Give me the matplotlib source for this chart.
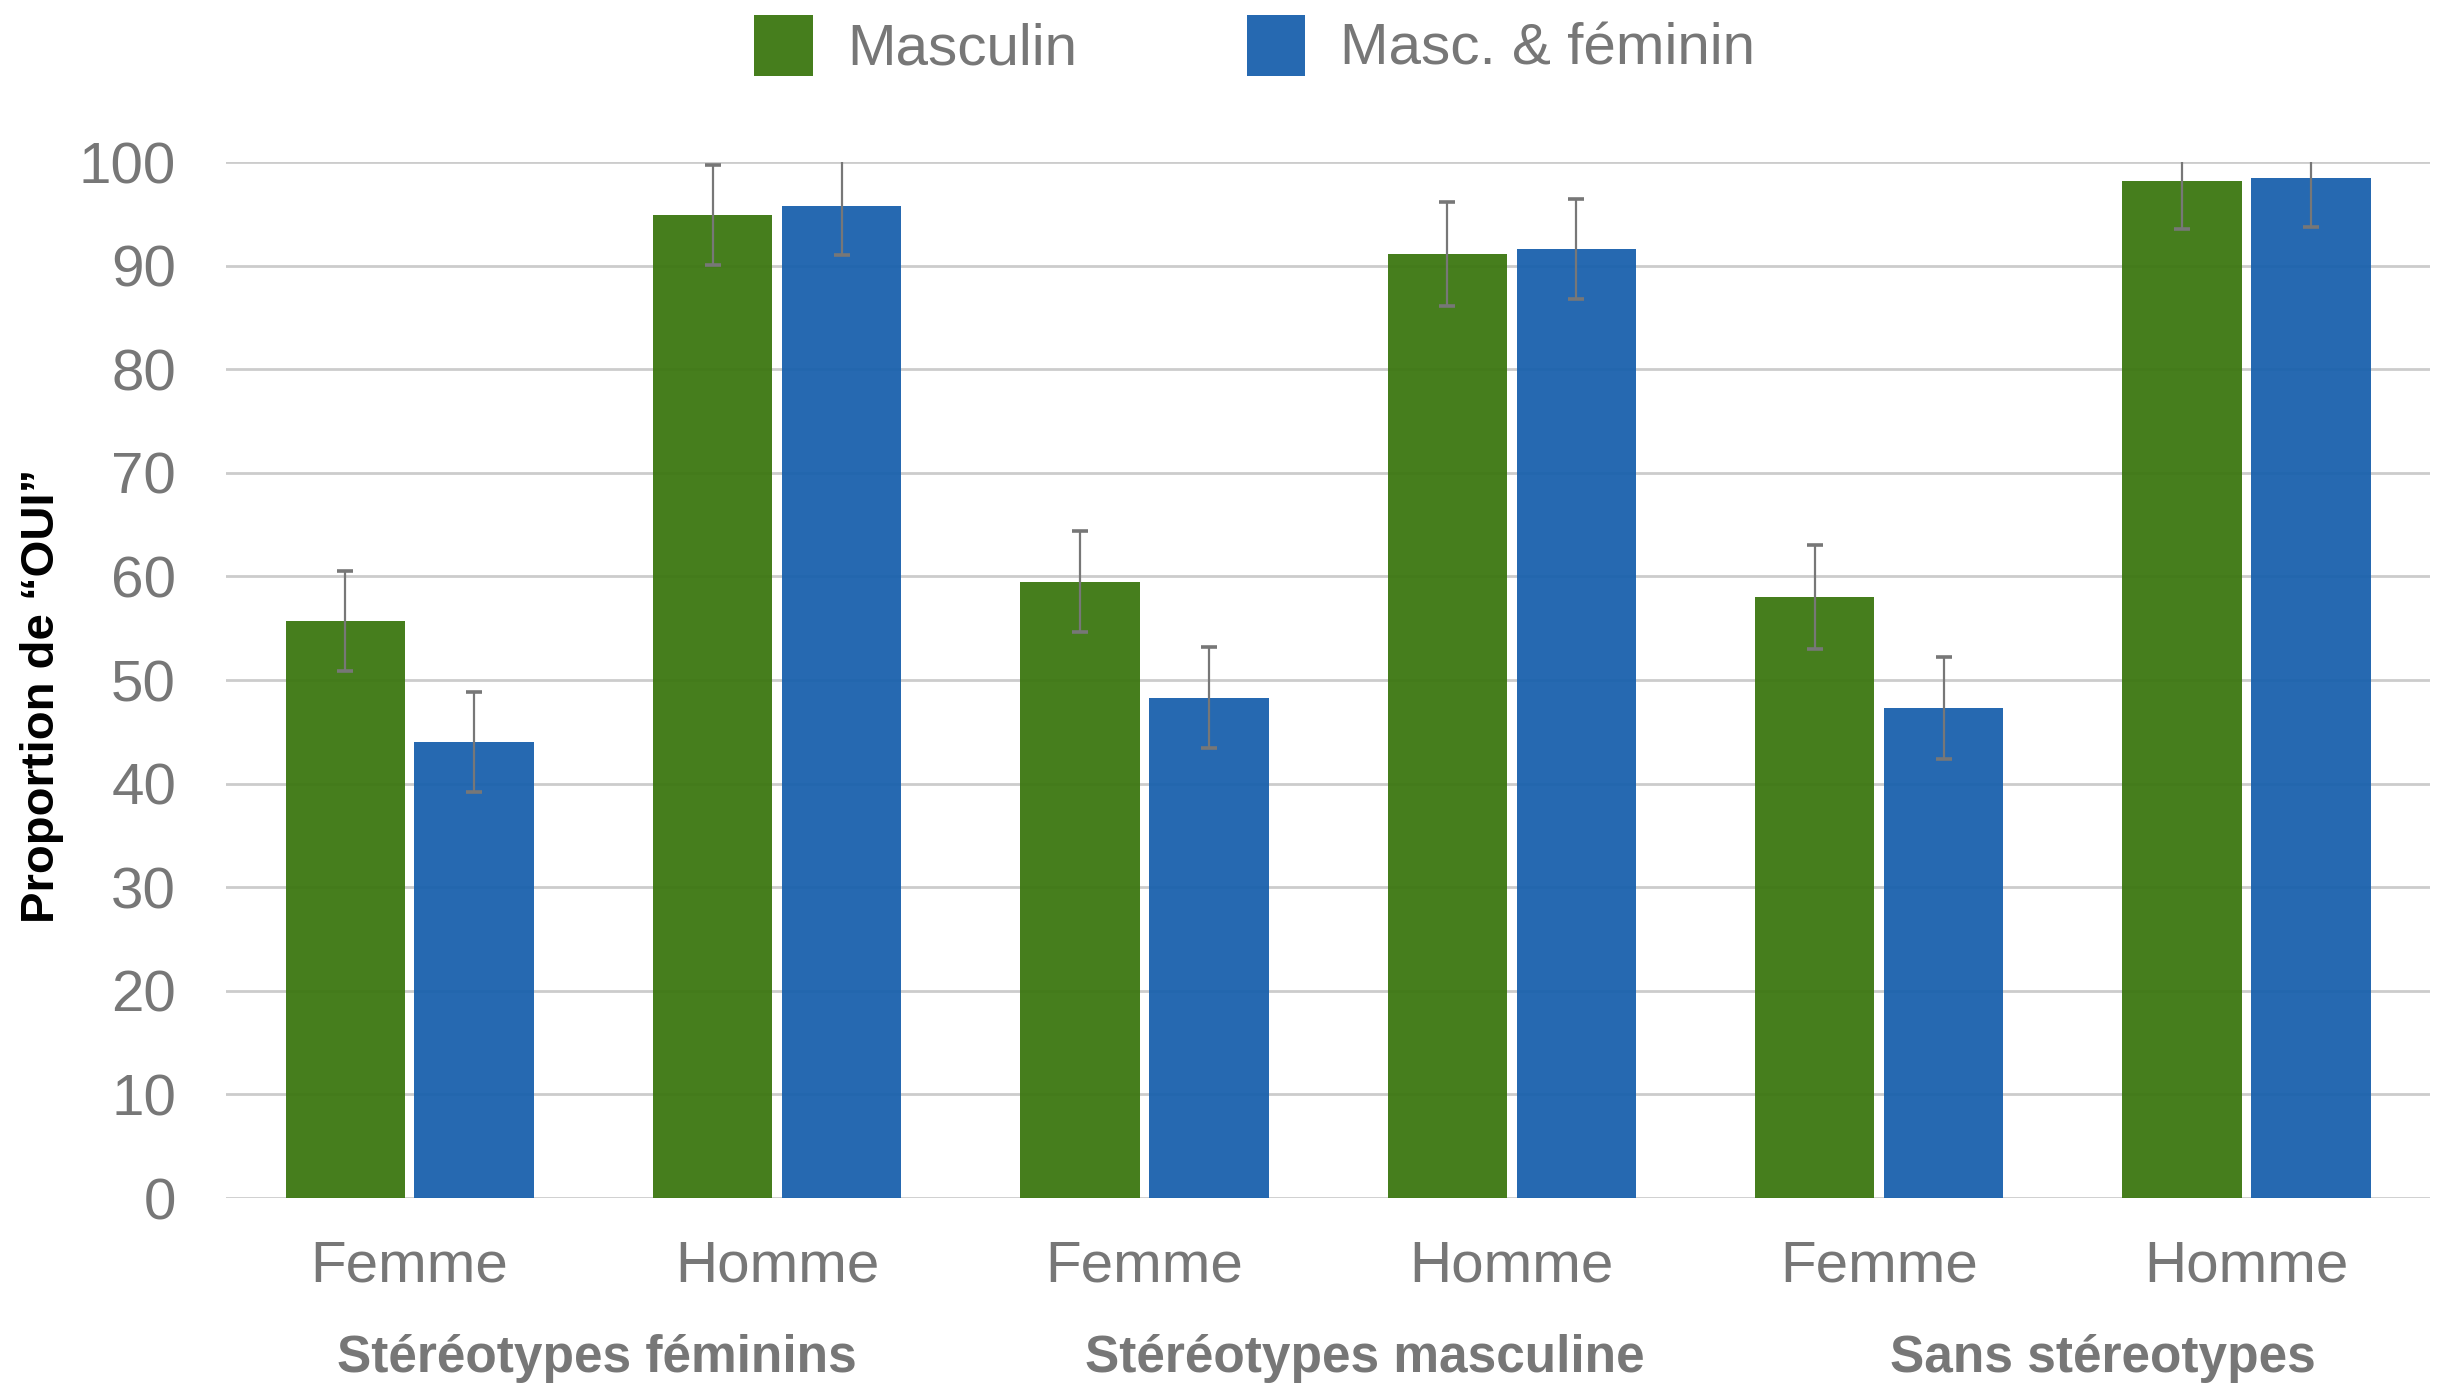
import matplotlib.pyplot as plt
import numpy as np

plt.rcParams['font.family'] = ['Liberation Sans', 'DejaVu Sans']

# data
categories = ['Femme', 'Homme', 'Femme', 'Homme', 'Femme', 'Homme']
groups = ['Stéréotypes féminins', 'Stéréotypes masculine', 'Sans stéreotypes']
series_names = ['Masculin', 'Masc. & féminin']
masculin = [55.7, 94.9, 59.5, 91.1, 58.0, 98.2]
masc_fem = [44.0, 95.8, 48.3, 91.6, 47.3, 98.5]
err_masculin = [4.85, 4.8, 4.9, 5.0, 5.0, 4.7]
err_masc_fem = [4.8, 4.8, 4.85, 4.85, 4.95, 4.8]

green = '#3c7711'
blue = '#1a61ad'
gray = '#777777'

fig = plt.figure(figsize=(12.23, 6.93), dpi=200)
ax = fig.add_axes([0.0924, 0.1356, 0.9011, 0.7475])

x = np.arange(len(categories))
w = 0.325
off = 0.013

ax.bar(x - off - w / 2, masculin, w, color=green, alpha=0.95, zorder=2, label=series_names[0])
ax.bar(x + off + w / 2, masc_fem, w, color=blue, alpha=0.95, zorder=2, label=series_names[1])
ax.errorbar(x - off - w / 2, masculin, yerr=err_masculin, fmt='none', ecolor=gray,
            elinewidth=0.8, capsize=3, capthick=1.3, zorder=3)
ax.errorbar(x + off + w / 2, masc_fem, yerr=err_masc_fem, fmt='none', ecolor=gray,
            elinewidth=0.8, capsize=3, capthick=1.3, zorder=3)

ax.set_xlim(-0.5, 5.5)
ax.set_ylim(0, 100)
ax.set_yticks(np.arange(0, 101, 10))
ax.set_xticks(x)
ax.set_xticklabels(categories)
ax.grid(True, axis='y', color='#cccccc', linewidth=1.0, zorder=0)
ax.set_axisbelow(True)
for s in ax.spines.values():
    s.set_visible(False)
ax.tick_params(axis='both', length=0, labelsize=21, labelcolor=gray)
ax.tick_params(axis='y', pad=18)
ax.tick_params(axis='x', pad=15)

# group labels under the categories
group_pos = [0.51, 2.6, 4.61]
for gx, g in zip(group_pos, groups):
    ax.text(gx, -0.155, g, transform=ax.get_xaxis_transform(), ha='center', va='center',
            fontsize=18.5, fontweight='bold', color=gray)

fig.text(0.017, 0.498, 'Proportion de “OUI”', rotation=90, ha='center', va='center',
         fontsize=17, fontweight='bold', color='black')

handles, labels = ax.get_legend_handles_labels()
fig.legend(handles, labels, loc='center', bbox_to_anchor=(0.513, 0.967), ncol=2,
           frameon=False, fontsize=21, labelcolor=gray, handlelength=1.0,
           handleheight=1.25, handletextpad=0.6, columnspacing=2.9)

fig.savefig('out.png', dpi=200)
